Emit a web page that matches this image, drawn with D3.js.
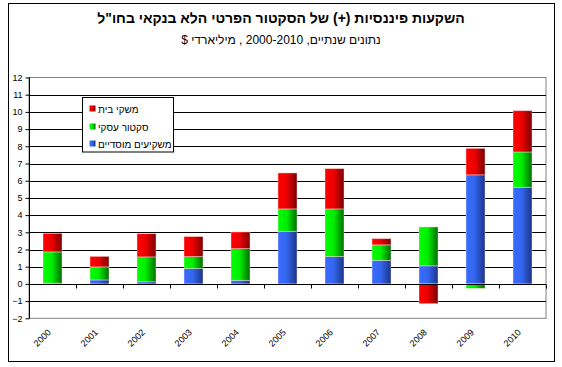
<!DOCTYPE html>
<html><head><meta charset="utf-8">
<script src="https://cdn.jsdelivr.net/npm/d3@7"></script>
<style>
html,body{margin:0;padding:0;background:#fff;}
svg{display:block;font-family:"Liberation Sans",Arial,sans-serif;}
</style></head>
<body>
<svg id="chart" width="562" height="367"></svg>
<script>
const title = "השקעות פיננסיות (+) של הסקטור הפרטי הלא בנקאי בחו\"ל";
const subtitle = "נתונים שנתיים, 2000-2010 , מיליארדי $";
const years = ["2000","2001","2002","2003","2004","2005","2006","2007","2008","2009","2010"];
const seriesNames = ["משקי בית","סקטור עסקי","משקיעים מוסדיים"];
// stacked bottom to top: institutional (blue), business (green), households (red)
const institutional = [0.05, 0.23, 0.12, 0.89, 0.21, 3.06, 1.59, 1.37, 1.05, 6.34, 5.62];
const business      = [1.81, 0.76, 1.45, 0.70, 1.84, 1.30, 2.77, 0.90, 2.26, -0.26, 2.05];
const households    = [1.08, 0.61, 1.35, 1.16, 0.97, 2.09, 2.34, 0.36, -1.15, 1.54, 2.40];
const yTicks = [-2,-1,0,1,2,3,4,5,6,7,8,9,10,11,12];

const svg = d3.select("#chart");
const L = 29, R = 546, T = 77.5, B = 318.3;

const x = d3.scaleBand().domain(years).range([L, R]).paddingInner(0.596).paddingOuter(0.298);
const y = d3.scaleLinear().domain([-2, 12]).range([B, T]);

// outer frame
svg.append("rect").attr("x", 8.5).attr("y", 3.5).attr("width", 546).attr("height", 358)
  .attr("fill", "#fff").attr("stroke", "#000").attr("stroke-width", 1);

// titles
svg.append("text").attr("x", 281).attr("y", 23).attr("text-anchor", "middle")
  .attr("direction", "rtl").style("unicode-bidi", "embed")
  .attr("font-size", 14).attr("font-weight", "bold").text(title);
svg.append("text").attr("x", 281).attr("y", 44).attr("text-anchor", "middle")
  .attr("direction", "rtl").style("unicode-bidi", "embed")
  .attr("font-size", 12).text(subtitle);

// gradients
const defs = svg.append("defs");
const grads = [
  {id: "gBlue", c1: "#3a6bff", c2: "#3366ee", c3: "#1c3488"},
  {id: "gGreen", c1: "#00ff00", c2: "#00ee00", c3: "#006e00"},
  {id: "gRed", c1: "#ff0000", c2: "#ee0000", c3: "#7a0000"}
];
grads.forEach(g => {
  const lg = defs.append("linearGradient").attr("id", g.id).attr("x1", "0").attr("x2", "1").attr("y1", "0").attr("y2", "0");
  lg.append("stop").attr("offset", "0").attr("stop-color", g.c1);
  lg.append("stop").attr("offset", "0.45").attr("stop-color", g.c2);
  lg.append("stop").attr("offset", "1").attr("stop-color", g.c3);
});

// plot area gray border
svg.append("rect").attr("x", L).attr("y", T).attr("width", R - L).attr("height", B - T)
  .attr("fill", "none").attr("stroke", "#808080").attr("stroke-width", 1);

// gridlines
svg.append("g").selectAll("line").data(yTicks.filter(v => v > -2 && v < 12 && v !== 0)).join("line")
  .attr("x1", L).attr("x2", R).attr("y1", d => Math.round(y(d)) + 0.5).attr("y2", d => Math.round(y(d)) + 0.5)
  .attr("stroke", "#000").attr("stroke-width", 1);

// y axis
const yAxis = svg.append("g").attr("transform", `translate(${L + 0.5},0)`)
  .call(d3.axisLeft(y).tickValues(yTicks).tickSize(4).tickPadding(3).tickFormat(d3.format("d")));
yAxis.select(".domain").attr("stroke", "#000").attr("d", `M0,${T}V${B}`);
yAxis.selectAll(".tick line").attr("stroke", "#000");
yAxis.selectAll("text").attr("font-size", 9).attr("fill", "#000")
  .attr("font-family", "'Liberation Sans', Arial, sans-serif");

// stacked bars
const rows = years.map((yr, i) => ({year: yr, institutional: institutional[i], business: business[i], households: households[i]}));
const stack = d3.stack().keys(["institutional", "business", "households"]).offset(d3.stackOffsetDiverging);
const stacked = stack(rows);
const fills = {institutional: "url(#gBlue)", business: "url(#gGreen)", households: "url(#gRed)"};
svg.append("g").selectAll("g").data(stacked).join("g")
  .attr("fill", d => fills[d.key])
  .selectAll("rect").data(d => d).join("rect")
  .attr("x", d => x(d.data.year))
  .attr("width", x.bandwidth())
  .attr("y", d => y(Math.max(d[0], d[1])))
  .attr("height", d => Math.abs(y(d[0]) - y(d[1])))
  .attr("stroke", "rgba(255,220,220,0.55)").attr("stroke-width", 0.8);

// x axis (zero line) with ticks at category boundaries
const zeroY = Math.round(y(0)) + 0.5;
svg.append("line").attr("x1", L).attr("x2", R).attr("y1", zeroY).attr("y2", zeroY).attr("stroke", "#000");
const step = x.step();
const x0 = x.range()[0];
svg.append("g").selectAll("line").data(d3.range(years.length + 1)).join("line")
  .attr("x1", i => Math.round(x0 + i * step) + 0.5).attr("x2", i => Math.round(x0 + i * step) + 0.5)
  .attr("y1", zeroY).attr("y2", zeroY + 4).attr("stroke", "#000");

// x labels
svg.append("g").selectAll("text").data(years).join("text")
  .attr("transform", d => `translate(${x(d) + x.bandwidth() / 2 - 1},${333}) rotate(-45)`)
  .attr("text-anchor", "end").attr("font-size", 9).attr("fill", "#000").text(d => d);

// legend
const lg = svg.append("g");
lg.append("rect").attr("x", 82.5).attr("y", 97.5).attr("width", 91).attr("height", 54.5)
  .attr("fill", "#fff").attr("stroke", "#000");
const legendFills = ["url(#gRed)", "url(#gGreen)", "url(#gBlue)"];
const legendY = [109, 127, 144];
seriesNames.forEach((name, i) => {
  lg.append("rect").attr("x", 89.5).attr("y", legendY[i] - 3.5).attr("width", 6).attr("height", 6)
    .attr("fill", legendFills[i]);
  lg.append("text").attr("x", 98).attr("y", legendY[i] + 3.5).attr("font-size", 10).text(name);
});
</script>
</body></html>
